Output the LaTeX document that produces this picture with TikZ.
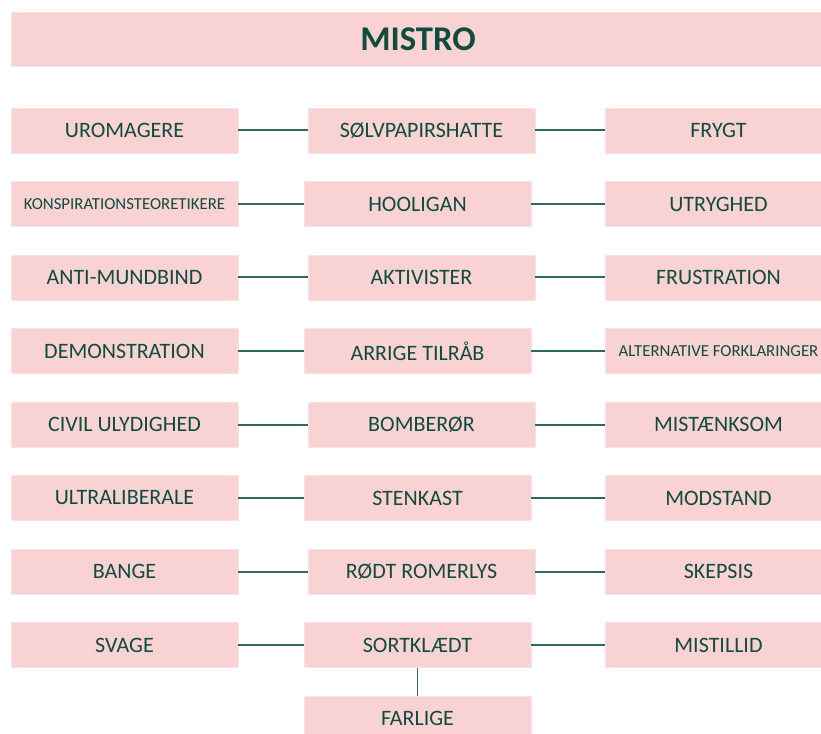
\documentclass[tikz,border=0pt]{standalone}
\usepackage{fontspec}
\setmainfont{Carlito}
\definecolor{boxpink}{HTML}{F9D3D4}
\definecolor{boxedge}{HTML}{FBE3E3}
\definecolor{txtgreen}{HTML}{0F4C3E}
\definecolor{linegreen}{HTML}{2C6A5D}
\begin{document}
\begin{tikzpicture}[x=0.75pt,y=-0.75pt,
  box/.style={rectangle, fill=boxpink, draw=boxedge, line width=0.6pt, text=txtgreen,
    minimum width=170.25pt, minimum height=33.75pt, inner sep=0pt,
    font=\fontsize{16.5pt}{18pt}\selectfont},
  smalltxt/.style={font=\fontsize{12.6pt}{14pt}\selectfont},
  titlebox/.style={rectangle, fill=boxpink, draw=boxedge, line width=0.6pt, text=txtgreen,
    minimum width=610.5pt, minimum height=40.5pt, inner sep=0pt,
    font=\fontsize{26pt}{30pt}\selectfont\bfseries},
  link/.style={draw=linegreen, line width=1.5pt}]
\useasboundingbox (0,0) rectangle (821,734);
\clip (0,0) rectangle (821,734);
\fill[white] (0,0) rectangle (821,734);
\node[titlebox] (title) at (418,39) {MISTRO};
% rows
\foreach \i/\l/\m/\mx/\r/\lopt/\ropt in {
  1/UROMAGERE/SØLVPAPIRSHATTE/421.5/FRYGT//,
  2/KONSPIRATIONSTEORETIKERE/HOOLIGAN/417.5/UTRYGHED/smalltxt/,
  3/ANTI-MUNDBIND/AKTIVISTER/421.5/FRUSTRATION//,
  4/DEMONSTRATION/ARRIGE TILRÅB/417.5/ALTERNATIVE FORKLARINGER//smalltxt,
  5/CIVIL ULYDIGHED/BOMBERØR/421.5/MISTÆNKSOM//,
  6/ULTRALIBERALE/STENKAST/417.5/MODSTAND//,
  7/BANGE/RØDT ROMERLYS/421.5/SKEPSIS//,
  8/SVAGE/SORTKLÆDT/417.5/MISTILLID//}{
  \pgfmathsetmacro{\cy}{130.5+73.5*(\i-1)}
  \node[box,\lopt] (l\i) at (124.5,\cy) {\l};
  \node[box] (m\i) at (\mx,\cy) {\m};
  \node[box,\ropt] (r\i) at (718.5,\cy) {\r};
  \draw[link] (l\i.east) -- (m\i.west);
  \draw[link] (m\i.east) -- (r\i.west);
}
\node[box] (farlige) at (417.5,718.5) {FARLIGE};
\draw[link, line width=1.2pt] (m8.south) -- (farlige.north);
\end{tikzpicture}
\end{document}
